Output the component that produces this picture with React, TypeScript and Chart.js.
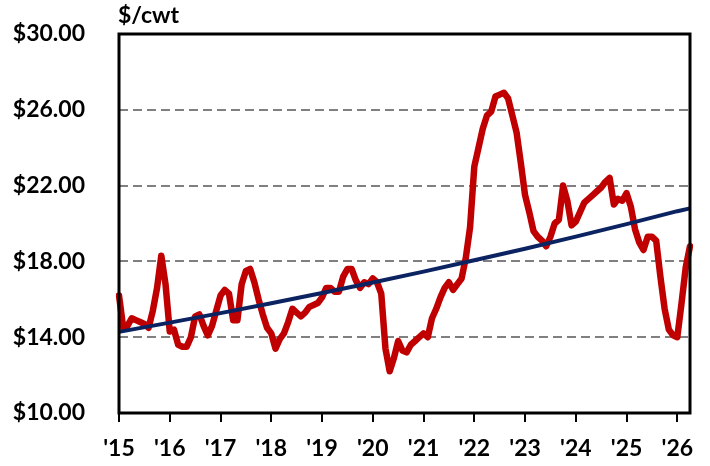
import React, { useEffect, useRef } from 'react';
import { Chart, registerables } from 'chart.js';

Chart.register(...registerables);

const START_YEAR = 2015;
const yearLabels = ["'15", "'16", "'17", "'18", "'19", "'20", "'21", "'22", "'23", "'24", "'25", "'26"];
const yTicks = [10, 14, 18, 22, 26, 30];
const unitLabel = '$/cwt';

// Monthly price, Jan 2015 – Apr 2026 ($/cwt)
const price2015 = [16.2, 14.5, 14.6, 15.0, 14.9, 14.8, 14.7, 14.5, 15.4, 16.6, 18.3, 16.8];
const price2016 = [14.3, 14.4, 13.6, 13.5, 13.5, 14.0, 15.1, 15.2, 14.6, 14.1, 14.6, 15.4];
const price2017 = [16.2, 16.5, 16.3, 14.9, 14.9, 16.8, 17.5, 17.6, 16.9, 16.0, 15.2, 14.5];
const price2018 = [14.2, 13.4, 13.9, 14.2, 14.8, 15.5, 15.3, 15.1, 15.3, 15.6, 15.7, 15.8];
const price2019 = [16.1, 16.6, 16.6, 16.4, 16.4, 17.2, 17.6, 17.6, 17.0, 16.6, 16.9, 16.8];
const price2020 = [17.1, 16.9, 16.3, 13.4, 12.2, 12.9, 13.8, 13.3, 13.2, 13.6, 13.8, 14.0];
const price2021 = [14.2, 14.0, 15.0, 15.5, 16.1, 16.6, 16.9, 16.5, 16.8, 17.1, 18.2, 19.8];
const price2022 = [23.0, 24.0, 25.0, 25.7, 25.9, 26.7, 26.8, 26.9, 26.6, 25.7, 24.8, 23.2];
const price2023 = [21.5, 20.6, 19.6, 19.3, 19.1, 18.8, 19.3, 20.0, 20.2, 22.0, 21.2, 19.9];
const price2024 = [20.1, 20.6, 21.1, 21.3, 21.5, 21.7, 21.9, 22.2, 22.4, 21.0, 21.3, 21.2];
const price2025 = [21.6, 20.9, 19.7, 19.0, 18.6, 19.3, 19.3, 19.1, 17.2, 15.5, 14.4, 14.1];
const price2026 = [14.0, 15.8, 17.7, 18.8];

// Trend line read at each January, plus its end value (Apr 2026)
const trendJan = [14.28, 14.77, 15.27, 15.79, 16.33, 16.89, 17.46, 18.06, 18.67, 19.31, 19.97, 20.65];
const trendEnd = 20.8;

const price = [
  ...price2015, ...price2016, ...price2017, ...price2018, ...price2019, ...price2020,
  ...price2021, ...price2022, ...price2023, ...price2024, ...price2025, ...price2026,
];
const monthLabels = price.map((_, i) => `${START_YEAR + Math.floor(i / 12)}-${String((i % 12) + 1).padStart(2, '0')}`);
const trend = price.map((_, i) =>
  i === price.length - 1 ? trendEnd : i % 12 === 0 ? trendJan[i / 12] : null
);

const FONT = 'Lato, "Open Sans", sans-serif';

const framePlugin = {
  id: 'frame',
  afterDatasetsDraw(chart: any) {
    const { ctx, chartArea: a } = chart;
    ctx.save();
    ctx.lineWidth = 3;
    ctx.strokeStyle = '#000';
    ctx.strokeRect(a.left, a.top, a.right - a.left, a.bottom - a.top);
    ctx.font = `bold 23px ${FONT}`;
    ctx.fillStyle = '#000';
    ctx.textAlign = 'left';
    ctx.textBaseline = 'alphabetic';
    ctx.fillText(unitLabel, a.left - 1, a.top - 11);
    ctx.restore();
  },
};

export default function App() {
  const ref = useRef<HTMLCanvasElement>(null);

  useEffect(() => {
    if (!ref.current) return;
    const chart = new Chart(ref.current, {
      type: 'line',
      data: {
        labels: monthLabels,
        datasets: [
          {
            label: 'Trend',
            data: trend,
            borderColor: '#0B2461',
            borderWidth: 4,
            pointRadius: 0,
            spanGaps: true,
            tension: 0,
          },
          {
            label: 'Price',
            data: price,
            borderColor: '#C00000',
            borderWidth: 6.5,
            pointRadius: 0,
            tension: 0,
            borderJoinStyle: 'round',
            borderCapStyle: 'round',
          },
        ],
      },
      options: {
        responsive: false,
        animation: false,
        layout: { padding: { top: 34, right: 20, left: 0, bottom: 0 } },
        plugins: {
          legend: { display: false },
          tooltip: { enabled: false },
          title: { display: false },
        },
        scales: {
          x: {
            type: 'category',
            offset: false,
            afterFit: (s: any) => {
              s.height = 53;
              s.paddingLeft = 0;
              s.paddingRight = 0;
            },
            grid: {
              drawOnChartArea: false,
              drawTicks: true,
              tickLength: 9,
              color: (c: any) => (c.index % 12 === 0 ? '#000' : 'rgba(0,0,0,0)'),
              lineWidth: 2,
            },
            border: { display: false },
            ticks: {
              autoSkip: false,
              maxRotation: 0,
              padding: 13,
              color: '#000',
              font: { family: FONT, size: 23, weight: 'bold' },
              callback: (_v: any, i: number) => (i % 12 === 0 ? yearLabels[i / 12] : ''),
            },
          },
          y: {
            min: 10,
            max: 30,
            afterFit: (s: any) => {
              s.width = 119;
              s.paddingTop = 0;
              s.paddingBottom = 0;
            },
            afterBuildTicks: (s: any) => { s.ticks = yTicks.map((v) => ({ value: v })); },
            grid: {
              drawTicks: false,
              color: (c: any) => (c.tick && (c.tick.value === 10 || c.tick.value === 30) ? 'rgba(0,0,0,0)' : '#808080'),
              lineWidth: 2,
            },
            border: { display: false, dash: [9, 5] },
            ticks: {
              padding: 34,
              color: '#000',
              font: { family: FONT, size: 23, weight: 'bold' },
              callback: (v: any) => `$${Number(v).toFixed(2)}`,
            },
          },
        },
      },
      plugins: [framePlugin],
    });
    return () => chart.destroy();
  }, []);

  return (
    <div style={{ position: 'fixed', left: 0, top: 0, width: 710, height: 466, background: '#fff' }}>
      <canvas ref={ref} width={710} height={466} style={{ display: 'block' }} />
    </div>
  );
}
